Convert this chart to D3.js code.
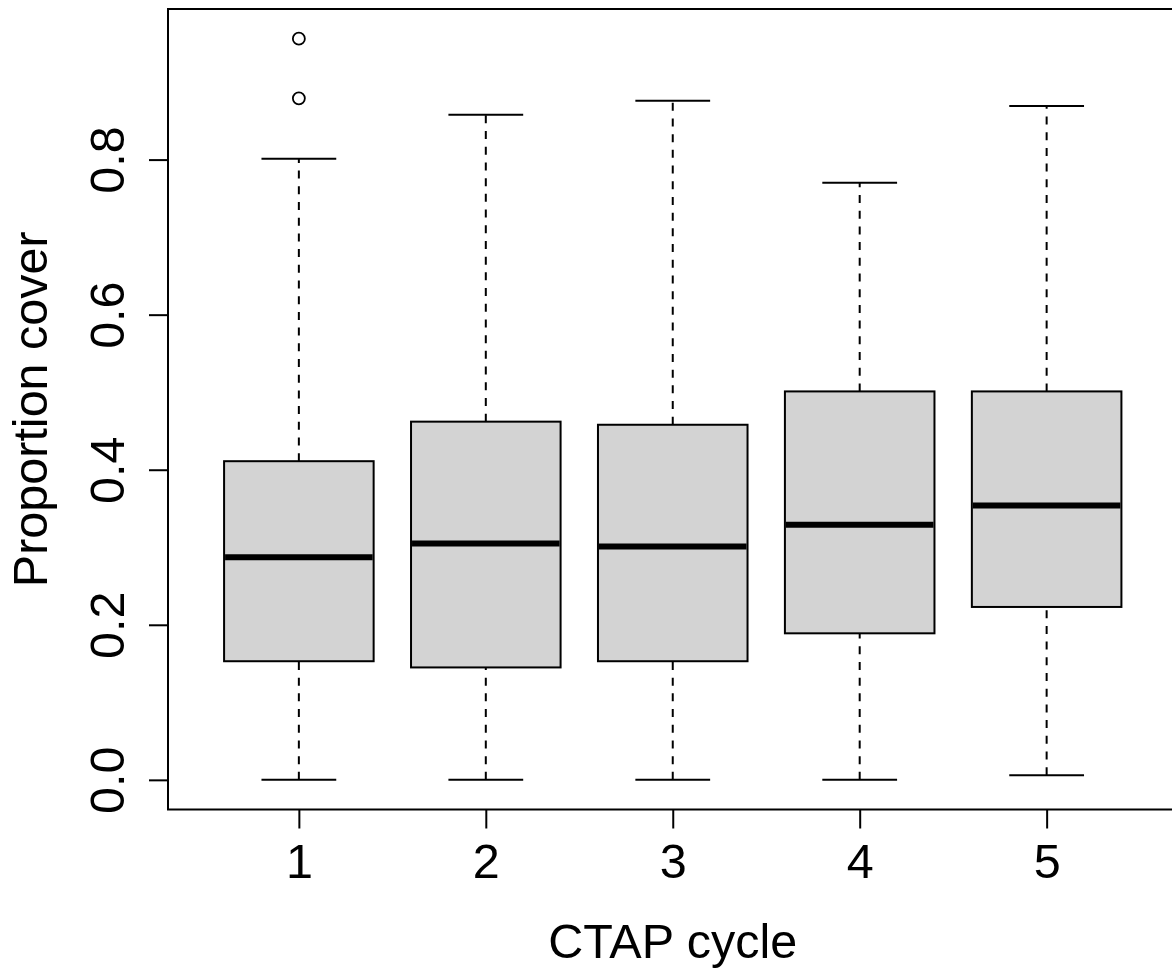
<!DOCTYPE html>
<html>
<head>
<meta charset="utf-8">
<script src="https://cdn.jsdelivr.net/npm/d3@7"></script>
<style>
  html, body { margin: 0; padding: 0; background: #fff; }
  svg { display: block; }
  text { font-family: "Liberation Sans", Arial, sans-serif; fill: #000; }
</style>
</head>
<body>
<svg id="chart" width="1172" height="969"></svg>
<script>
// Proportion cover by CTAP cycle: five-number summaries and outliers
const cycles      = [1, 2, 3, 4, 5];
const whiskerLow  = [0.000, 0.000, 0.000, 0.000, 0.006];
const q1          = [0.153, 0.145, 0.153, 0.189, 0.223];
const medians     = [0.287, 0.305, 0.301, 0.329, 0.354];
const q3          = [0.411, 0.462, 0.458, 0.501, 0.501];
const whiskerHigh = [0.801, 0.858, 0.876, 0.770, 0.869];
const outlierCycle = [1, 1];
const outlierValue = [0.956, 0.879];
const yTicks = [0.0, 0.2, 0.4, 0.6, 0.8];
const xLabel = "CTAP cycle";
const yLabel = "Proportion cover";

const svg = d3.select("#chart");
const plotLeft = 168, plotRight = 1177.5, plotTop = 9, plotBottom = 809.5;
const fontSize = "48.5px";

// axis ranges padded by 4% like base graphics
const yMin = 0, yMax = d3.max(outlierValue.concat(whiskerHigh));
const yPad = (yMax - yMin) * 0.04;
const y = d3.scaleLinear().domain([yMin - yPad, yMax + yPad]).range([plotBottom, plotTop]);
const xPad = (5.5 - 0.5) * 0.04;
const x = d3.scaleLinear().domain([0.5 - xPad, 5.5 + xPad]).range([plotLeft, plotRight]);

const boxW = x(0.4) - x(0);     // half width of a box (0.8 units wide)
const capW = boxW / 2;

const stats = cycles.map((c, i) => ({
  c, lo: whiskerLow[i], q1: q1[i], med: medians[i], q3: q3[i], hi: whiskerHigh[i]
}));

const g = svg.append("g");

// whiskers (dashed)
g.selectAll("line.wlo").data(stats).join("line")
  .attr("x1", d => x(d.c)).attr("x2", d => x(d.c))
  .attr("y1", d => y(d.lo)).attr("y2", d => y(d.q1))
  .attr("stroke", "#000").attr("stroke-width", 2).attr("stroke-dasharray", "8,7.7");
g.selectAll("line.whi").data(stats).join("line")
  .attr("x1", d => x(d.c)).attr("x2", d => x(d.c))
  .attr("y1", d => y(d.q3)).attr("y2", d => y(d.hi))
  .attr("stroke", "#000").attr("stroke-width", 2).attr("stroke-dasharray", "8,7.7");

// staples
["lo", "hi"].forEach(k => {
  g.append("g").selectAll("line").data(stats).join("line")
    .attr("x1", d => x(d.c) - capW).attr("x2", d => x(d.c) + capW)
    .attr("y1", d => y(d[k])).attr("y2", d => y(d[k]))
    .attr("stroke", "#000").attr("stroke-width", 2);
});

// boxes
g.append("g").selectAll("rect").data(stats).join("rect")
  .attr("x", d => x(d.c) - boxW).attr("width", 2 * boxW)
  .attr("y", d => y(d.q3)).attr("height", d => y(d.q1) - y(d.q3))
  .attr("fill", "#d3d3d3").attr("stroke", "#000").attr("stroke-width", 2);

// medians
g.append("g").selectAll("line").data(stats).join("line")
  .attr("x1", d => x(d.c) - boxW + 1).attr("x2", d => x(d.c) + boxW - 1)
  .attr("y1", d => y(d.med)).attr("y2", d => y(d.med))
  .attr("stroke", "#000").attr("stroke-width", 6);

// outliers
g.append("g").selectAll("circle").data(outlierValue.map((v, i) => ({ c: outlierCycle[i], v })))
  .join("circle")
  .attr("cx", d => x(d.c)).attr("cy", d => y(d.v)).attr("r", 6)
  .attr("fill", "none").attr("stroke", "#000").attr("stroke-width", 1.8);

// y axis
const yAxis = svg.append("g").attr("transform", `translate(${plotLeft},0)`)
  .call(d3.axisLeft(y).tickValues(yTicks).tickSize(19).tickFormat(d3.format(".1f")));
yAxis.select(".domain").remove();
yAxis.selectAll(".tick line").attr("stroke", "#000").attr("stroke-width", 2);
yAxis.selectAll(".tick text")
  .attr("x", null).attr("y", null).attr("dy", null)
  .attr("transform", "translate(-44,0) rotate(-90)")
  .attr("text-anchor", "middle")
  .style("font-size", fontSize).style("font-family", "'Liberation Sans', Arial, sans-serif");

// x axis
const xAxis = svg.append("g").attr("transform", `translate(0,${plotBottom})`)
  .call(d3.axisBottom(x).tickValues(cycles).tickSize(19).tickFormat(d3.format("d")));
xAxis.select(".domain").remove();
xAxis.selectAll(".tick line").attr("stroke", "#000").attr("stroke-width", 2);
xAxis.selectAll(".tick text")
  .attr("y", 68).attr("dy", null)
  .attr("text-anchor", "middle")
  .style("font-size", fontSize).style("font-family", "'Liberation Sans', Arial, sans-serif");

// plot frame
svg.append("rect")
  .attr("x", plotLeft).attr("y", plotTop)
  .attr("width", plotRight - plotLeft).attr("height", plotBottom - plotTop)
  .attr("fill", "none").attr("stroke", "#000").attr("stroke-width", 2);

// axis titles
svg.append("text")
  .attr("x", (plotLeft + plotRight) / 2).attr("y", 958)
  .attr("text-anchor", "middle").style("font-size", fontSize)
  .text(xLabel);
svg.append("text")
  .attr("transform", `translate(47,${(plotTop + plotBottom) / 2}) rotate(-90)`)
  .attr("text-anchor", "middle").style("font-size", fontSize)
  .text(yLabel);
</script>
</body>
</html>
